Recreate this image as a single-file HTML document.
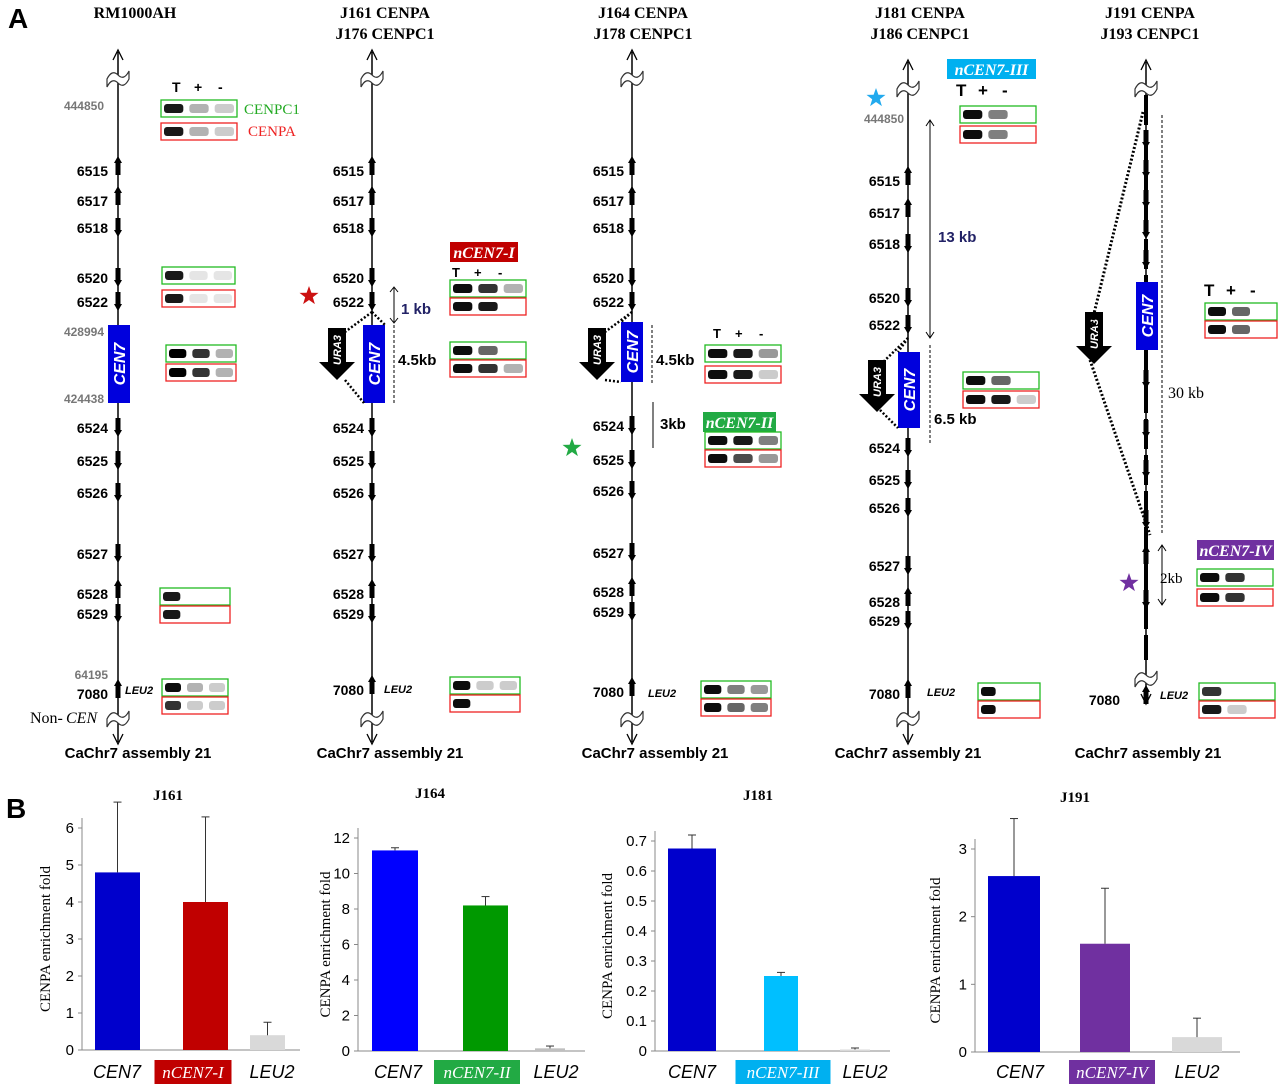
<!DOCTYPE html>
<html><head><meta charset="utf-8"><style>
body{margin:0;background:#fff}
svg{display:block;font-family:"Liberation Sans",sans-serif}
.s{font-family:"Liberation Serif",serif}
</style></head><body>
<svg id="fig" width="1280" height="1089" viewBox="0 0 1280 1089">
<text x="8" y="28" font-size="28" font-weight="bold">A</text>
<text x="6" y="818" font-size="28" font-weight="bold">B</text>
<g id="panelA"></g>
<g id="panelB"></g>
</svg>
<script>
// ---- bar chart data ----
const chartTitles=["J161","J164","J181","J191"];
const categories=[["CEN7","nCEN7-I","LEU2"],["CEN7","nCEN7-II","LEU2"],["CEN7","nCEN7-III","LEU2"],["CEN7","nCEN7-IV","LEU2"]];
const values1=[4.8,4.0,0.4];
const values2=[11.3,8.2,0.15];
const values3=[0.675,0.25,0.005];
const values4=[2.6,1.6,0.22];
const errTop1=[6.7,6.3,0.75];
const errTop2=[11.45,8.7,0.28];
const errTop3=[0.72,0.262,0.01];
const errTop4=[3.45,2.42,0.5];
const ticks1=[0,1,2,3,4,5,6];
const ticks2=[0,2,4,6,8,10,12];
const ticks3=[0,0.1,0.2,0.3,0.4,0.5,0.6,0.7];
const ticks4=[0,1,2,3];

const NS="http://www.w3.org/2000/svg";
function mk(parent,tag,attrs,text){const e=document.createElementNS(NS,tag);for(const k in attrs)e.setAttribute(k,attrs[k]);if(text!==undefined)e.textContent=text;parent.appendChild(e);return e;}

const B=document.getElementById('panelB');
const layouts=[
 {ax:82,y0:1050,yTop:828,tmax:6,bars:[[95,45],[183,45],[250,35]],lab:[117,193,272],titleX:168,titleY:800,ylx:50,cols:["#0000cc","#c00000","#d9d9d9"],hl:"#c00000",xEnd:300},
 {ax:358,y0:1051,yTop:838,tmax:12,bars:[[372,46],[463,45],[535,30]],lab:[398,477,556],titleX:430,titleY:798,ylx:330,cols:["#0000ff","#009900","#bfbfbf"],hl:"#22aa44",xEnd:585},
 {ax:655,y0:1051,yTop:841,tmax:0.7,bars:[[668,48],[764,34],[840,30]],lab:[692,783,865],titleX:758,titleY:800,ylx:612,cols:["#0000cc","#00bfff","#d9d9d9"],hl:"#00b0f0",xEnd:890},
 {ax:975,y0:1052,yTop:849,tmax:3,bars:[[988,52],[1080,50],[1172,50]],lab:[1020,1112,1197],titleX:1075,titleY:802,ylx:940,cols:["#0000cc","#7030a0","#d9d9d9"],hl:"#7030a0",xEnd:1240}
];
const vals=[values1,values2,values3,values4], errs=[errTop1,errTop2,errTop3,errTop4], ticks=[ticks1,ticks2,ticks3,ticks4];
layouts.forEach((L,i)=>{
 const g=mk(B,'g',{});
 
 
 const yS=v=>L.y0-(v/L.tmax)*(L.y0-L.yTop);
 const t=mk(g,'text',{x:L.titleX,y:L.titleY,'font-size':15,'font-weight':'bold','text-anchor':'middle',class:'s'},chartTitles[i]);
 
 
 mk(g,'line',{x1:L.ax,y1:yS(L.tmax)-10,x2:L.ax,y2:L.y0,stroke:'#888','stroke-width':1});
 mk(g,'line',{x1:L.ax,y1:L.y0,x2:L.xEnd,y2:L.y0,stroke:'#888','stroke-width':1});
 ticks[i].forEach(v=>{
  mk(g,'line',{x1:L.ax-4,y1:yS(v),x2:L.ax,y2:yS(v),stroke:'#888'});
  const tl=mk(g,'text',{x:L.ax-8,y:yS(v)+5,'font-size':15,'text-anchor':'end'},String(v));
  
  
 });
 const yl=mk(g,'text',{x:0,y:0,'font-size':15,'text-anchor':'middle',class:'s',transform:`translate(${L.ylx},${(L.y0+L.yTop)/2}) rotate(-90)`},'CENPA enrichment fold');
 
 
 vals[i].forEach((v,j)=>{
  const [bx,bw]=L.bars[j];
  const r=mk(g,'rect',{x:bx,y:yS(v),width:bw,height:L.y0-yS(v),fill:L.cols[j]});
  
  
  const cx=bx+bw/2;
  mk(g,'line',{x1:cx,y1:yS(v),x2:cx,y2:yS(errs[i][j]),stroke:'#333'});
  mk(g,'line',{x1:cx-4,y1:yS(errs[i][j]),x2:cx+4,y2:yS(errs[i][j]),stroke:'#333'});
  const lx=L.lab[j];
  if(j===1){
   const w=categories[i][j].length*9+14;
   mk(g,'rect',{x:lx-w/2,y:1060,width:w,height:24,fill:L.hl});
   const tx=mk(g,'text',{x:lx,y:1078,'font-size':17,'font-style':'italic',fill:'#fff','text-anchor':'middle',class:'s'},categories[i][j]);
   
   
  } else {
   const tx=mk(g,'text',{x:lx,y:1078,'font-size':18,'font-style':'italic','text-anchor':'middle'},categories[i][j]);
   
   
  }
 });
});

// ---- panel A ----
const A=document.getElementById('panelA');
function squig(g,x,y){mk(g,'path',{d:`M${x-11},${y+4} q5,-10 11,-4 t11,-4 v8 q-5,10 -11,4 t-11,4z`,fill:'#fff',stroke:'#333','stroke-width':1.2});}
function gel(x,y,col,ints,w){w=w||76;const g=mk(A,'g',{});
 
 
 mk(g,'rect',{x:x,y:y,width:w,height:17,fill:'#fff',stroke:col,'stroke-width':1.3});
 ints.forEach((o,k)=>{if(o>0)mk(g,'rect',{x:x+3+k*(w/3),y:y+4,width:w/3-6,height:9,rx:3,fill:'#000',opacity:o});});}
function tag(x,y,w,col,txt){const r=mk(A,'rect',{x:x,y:y,width:w,height:20,fill:col});
 const t=mk(A,'text',{x:x+w/2,y:y+16,'font-size':16,'font-weight':'bold','font-style':'italic',fill:'#fff','text-anchor':'middle',class:'s'},txt);
 
 }
function star(x,y,col){const p=[];for(let k=0;k<10;k++){const r=k%2?4:10,a=-Math.PI/2+k*Math.PI/5;p.push((x+r*Math.cos(a)).toFixed(1)+','+(y+r*Math.sin(a)).toFixed(1));}
 const s=mk(A,'polygon',{points:p.join(' '),fill:col});}
function cenBox(x,y1,y2){mk(A,'rect',{x:x-11,y:y1,width:22,height:y2-y1,fill:'#0000dd'});
 const t=mk(A,'text',{x:0,y:0,'font-size':16,'font-weight':'bold','font-style':'italic',fill:'#fff','text-anchor':'middle',transform:`translate(${x+6},${(y1+y2)/2}) rotate(-90)`},'CEN7');
 }
function ura(x,y){mk(A,'path',{d:`M${x-9},${y} h18 v34 h9 l-18,18 l-18,-18 h9z`,fill:'#000'});
 mk(A,'text',{x:0,y:0,'font-size':11,'font-weight':'bold','font-style':'italic',fill:'#fff','text-anchor':'middle',transform:`translate(${x+4},${y+22}) rotate(-90)`},'URA3');}
function chrom(x,top,bot,labels,lx){
 mk(A,'line',{x1:x,y1:top-18,x2:x,y2:bot+22,stroke:'#000','stroke-width':1.5});
 mk(A,'path',{d:`M${x-5},${top-10} L${x},${top-20} L${x+5},${top-10}`,fill:'none',stroke:'#000','stroke-width':1.3});
 mk(A,'path',{d:`M${x-5},${bot+14} L${x},${bot+24} L${x+5},${bot+14}`,fill:'none',stroke:'#000','stroke-width':1.3});
 squig(A,x,top+5);squig(A,x,bot-5);
 labels.forEach(([n,y,d])=>{
  mk(A,'rect',{x:x-2.5,y:y-10,width:5,height:14,fill:'#000'});
  mk(A,'path',{d:d?`M${x-4},${y+2} L${x},${y+9} L${x+4},${y+2}z`:`M${x-4},${y-8} L${x},${y-15} L${x+4},${y-8}z`,fill:'#000'});
  const t=mk(A,'text',{x:x-lx,y:y+5,'font-size':14,'font-weight':'bold','text-anchor':'end'},n);
  
 });
}
function header(x,l1,l2){mk(A,'text',{x:x,y:18,'font-size':16,'font-weight':'bold','text-anchor':'middle',class:'s'},l1);
 if(l2)mk(A,'text',{x:x,y:39,'font-size':16,'font-weight':'bold','text-anchor':'middle',class:'s'},l2);}
function footer(x){const t=mk(A,'text',{x:x,y:758,'font-size':15,'font-weight':'bold','text-anchor':'middle'},'CaChr7 assembly 21');
 }
function grey(x,y,t){mk(A,'text',{x:x,y:y,'font-size':12,'font-weight':'bold',fill:'#777','text-anchor':'end'},t);}
function txt(x,y,t,sz,extra){const a={x:x,y:y,'font-size':sz||15,'font-weight':'bold'};Object.assign(a,extra||{});return mk(A,'text',a,t);}
function TPM(x,y,sz){txt(x,y,'T',sz);txt(x+22,y,'+',sz);txt(x+46,y,'-',sz);}
const G='#22bb22',R='#ee2222';

// col1
header(135,'RM1000AH');
chrom(118,70,720,[['6515',171,0],['6517',201,0],['6518',228,1],['6520',278,1],['6522',302,1],['6524',428,1],['6525',461,1],['6526',493,1],['6527',554,1],['6528',594,0],['6529',614,1],['7080',694,0]],10);
cenBox(119,325,403);grey(104,110,'444850');grey(104,336,'428994');grey(104,403,'424438');grey(108,679,'64195');
txt(125,694,'LEU2',11,{'font-style':'italic'});
txt(30,723,'Non-',16,{'font-weight':'normal',class:'s'});txt(66,723,'CEN',16,{'font-weight':'normal','font-style':'italic',class:'s'});
TPM(172,92,14);gel(161,100,G,[0.9,0.3,0.2]);gel(161,123,R,[0.9,0.3,0.2]);
txt(244,114,'CENPC1',15,{fill:'#22aa22','font-weight':'normal',class:'s'});txt(248,136,'CENPA',15,{fill:'#ee2222','font-weight':'normal',class:'s'});
gel(162,267,G,[0.9,0.1,0.1],73);gel(162,290,R,[0.9,0.1,0.1],73);gel(166,345,G,[1,0.8,0.3],70);gel(166,364,R,[1,0.8,0.3],70);
gel(160,588,G,[0.9,0,0],70);gel(160,606,R,[0.9,0,0],70);gel(162,679,G,[0.95,0.3,0.2],66);gel(162,697,R,[0.8,0.2,0.2],66);
footer(138);

// col2
header(385,'J161  CENPA','J176  CENPC1');
chrom(372,70,720,[['6515',171,0],['6517',201,0],['6518',228,1],['6520',278,1],['6522',302,1],['6524',428,1],['6525',461,1],['6526',493,1],['6527',554,1],['6528',594,0],['6529',614,1],['7080',690,0]],8);
cenBox(374,325,403);ura(337,328);
mk(A,'path',{d:'M372,312 L345,332 M372,312 L385,325 M345,380 L364,403',stroke:'#000','stroke-dasharray':'2,2','stroke-width':2.5,fill:'none'});
star(309,296,'#cc1111');txt(401,314,'1 kb',15,{fill:'#222266'});txt(398,365,'4.5kb',15);
mk(A,'path',{d:'M394,288 v34 M390,292 l4,-5 4,5 M390,318 l4,5 4,-5',stroke:'#000',fill:'none'});
mk(A,'path',{d:'M394,325 v78',stroke:'#000','stroke-dasharray':'3,2',fill:'none'});
txt(384,693,'LEU2',11,{'font-style':'italic'});
tag(450,242,68,'#c00000','nCEN7-I');TPM(452,277,13);gel(450,280,G,[0.95,0.8,0.3]);gel(450,298,R,[0.95,0.9,0]);
gel(450,342,G,[0.95,0.6,0]);gel(450,360,R,[0.95,0.8,0.3]);gel(450,677,G,[0.95,0.2,0.2],70);gel(450,695,R,[0.95,0,0],70);
footer(390);

// col3
header(643,'J164  CENPA','J178  CENPC1');
chrom(632,70,720,[['6515',171,0],['6517',201,0],['6518',228,1],['6520',278,1],['6522',302,1],['6524',426,1],['6525',460,1],['6526',491,1],['6527',553,1],['6528',592,0],['6529',612,1],['7080',692,0]],8);
cenBox(632,322,382);ura(597,328);
mk(A,'path',{d:'M632,312 L605,332 M632,312 L621,322 M605,380 L621,382',stroke:'#000','stroke-dasharray':'2,2','stroke-width':2.5,fill:'none'});
star(572,448,'#22aa44');txt(656,365,'4.5kb',15);txt(660,429,'3kb',15);
mk(A,'path',{d:'M652,325 v60',stroke:'#000','stroke-dasharray':'3,2',fill:'none'});
mk(A,'path',{d:'M653,402 v46',stroke:'#000',fill:'none'});
txt(648,697,'LEU2',11,{'font-style':'italic'});
TPM(713,338,13);gel(705,345,G,[0.95,0.9,0.4]);gel(705,366,R,[0.95,0.9,0.2]);
tag(703,412,73,'#22aa44','nCEN7-II');gel(705,432,G,[0.95,0.9,0.5]);gel(705,450,R,[0.95,0.7,0.4]);
gel(701,681,G,[0.95,0.5,0.4],70);gel(701,699,R,[0.95,0.6,0.5],70);
footer(655);

// col4
header(920,'J181  CENPA','J186  CENPC1');
chrom(908,80,720,[['6515',181,0],['6517',213,0],['6518',244,1],['6520',298,1],['6522',325,1],['6524',448,1],['6525',480,1],['6526',508,1],['6527',566,1],['6528',602,0],['6529',621,1],['7080',694,0]],8);
cenBox(909,352,428);ura(877,360);
mk(A,'path',{d:'M908,338 L880,365 M908,338 L898,352 M880,410 L898,428',stroke:'#000','stroke-dasharray':'2,2','stroke-width':2.5,fill:'none'});
tag(947,59,89,'#00b0f0','nCEN7-III');TPM(956,96,17);star(876,98,'#22aaee');grey(904,123,'444850');
mk(A,'path',{d:'M930,120 v218 M926,126 l4,-6 4,6 M926,332 l4,6 4,-6',stroke:'#000',fill:'none'});
mk(A,'path',{d:'M930,345 v100',stroke:'#000','stroke-dasharray':'3,2',fill:'none'});
txt(938,242,'13 kb',15,{fill:'#222266'});txt(934,424,'6.5 kb',15);
gel(960,106,G,[0.95,0.5,0]);gel(960,126,R,[0.95,0.5,0]);gel(963,372,G,[0.95,0.6,0]);gel(963,391,R,[0.95,0.9,0.2]);
gel(978,683,G,[0.95,0,0],62);gel(978,701,R,[0.95,0,0],62);txt(927,696,'LEU2',11,{'font-style':'italic'});
footer(908);

// col5
header(1150,'J191  CENPA','J193  CENPC1');
chrom(1146,80,680,[['',140,1],['',170,1],['',200,1],['',230,1],['',260,1],['',380,1],['',430,1],['',470,1],['',520,1],['',560,0],['',600,1],['7080',700,0]],26);
mk(A,'line',{x1:1146,y1:95,x2:1146,y2:660,stroke:'#000','stroke-width':4,'stroke-dasharray':'30,6'});
cenBox(1147,282,350);ura(1094,312);
mk(A,'path',{d:'M1143,112 L1090,330 M1090,360 L1150,535',stroke:'#000','stroke-dasharray':'2,2','stroke-width':3,fill:'none'});
mk(A,'path',{d:'M1162,115 v420',stroke:'#000','stroke-dasharray':'3,2',fill:'none'});
mk(A,'path',{d:'M1162,545 v60 M1158,551 l4,-6 4,6 M1158,599 l4,6 4,-6',stroke:'#000',fill:'none'});
txt(1168,398,'30 kb',16,{'font-weight':'normal',class:'s'});txt(1160,583,'2kb',15,{'font-weight':'normal',class:'s'});
star(1129,583,'#7030a0');tag(1197,540,77,'#7030a0','nCEN7-IV');
TPM(1204,296,17);gel(1205,303,G,[0.95,0.6,0],72);gel(1205,321,R,[0.95,0.6,0],72);
gel(1197,569,G,[0.95,0.8,0]);gel(1197,589,R,[0.95,0.8,0]);gel(1199,683,G,[0.8,0,0]);gel(1199,701,R,[0.9,0.2,0]);
txt(1160,699,'LEU2',11,{'font-style':'italic'});
footer(1148);
</script>
</body></html>
